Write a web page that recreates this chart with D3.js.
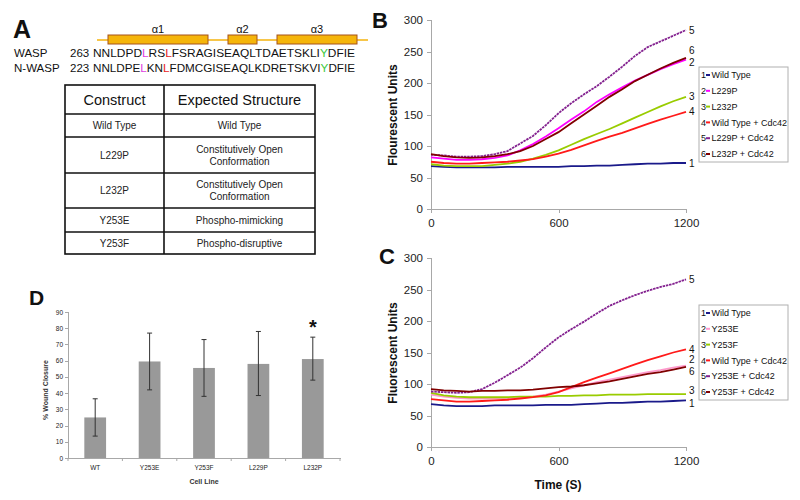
<!DOCTYPE html>
<meta charset="utf-8">
<style>
body { margin: 0; background: #fff; }
text { font-family: Arial, "Liberation Sans", sans-serif; fill: #111; }
.axis path, .axis line { stroke: #a8a8a8; shape-rendering: crispEdges; }
.axis text { font-family: Arial, "Liberation Sans", sans-serif; fill: #222; }
.panel-letter { font-weight: bold; }
</style>
<body>
<script src="https://d3js.org/d3.v7.min.js"></script>
<script>
// ---- data -------------------------------------------------------------
var times = [0, 60, 120, 180, 240, 300, 360, 420, 480, 540, 600,
             660, 720, 780, 840, 900, 960, 1020, 1080, 1140, 1200];

// panel B
var bWildType   = [68, 67, 66, 66, 66, 66, 67, 67, 67, 67, 67, 68, 68, 69, 69, 70, 71, 72, 72, 73, 73];
var bL229P      = [82, 80, 78, 78, 79, 81, 85, 93, 103, 115, 128, 142, 155, 170, 182, 193, 204, 213, 222, 230, 237];
var bL232P      = [71, 69, 68, 68, 68, 70, 72, 75, 80, 86, 93, 102, 111, 119, 127, 136, 145, 154, 163, 171, 178];
var bWTCdc42    = [75, 73, 72, 72, 73, 74, 75, 77, 79, 83, 88, 94, 101, 108, 115, 121, 128, 135, 142, 148, 154];
var bL229PCdc42 = [86, 85, 83, 83, 84, 87, 92, 104, 116, 133, 152, 168, 182, 195, 210, 226, 243, 257, 266, 275, 284];
var bL232PCdc42 = [87, 84, 82, 81, 82, 84, 87, 92, 100, 111, 122, 136, 150, 164, 178, 190, 203, 213, 223, 232, 240];
var bNames = ["Wild Type", "L229P", "L232P", "Wild Type + Cdc42", "L229P + Cdc42", "L232P + Cdc42"];

// panel C
var cWildType   = [68, 66, 65, 65, 65, 66, 66, 66, 66, 67, 67, 67, 68, 69, 70, 70, 71, 72, 72, 73, 74];
var cY253E      = [83, 80, 78, 77, 77, 77, 77, 78, 80, 83, 88, 93, 98, 103, 107, 111, 115, 119, 122, 126, 129];
var cY253F      = [86, 82, 80, 79, 79, 79, 79, 80, 80, 80, 81, 81, 82, 82, 83, 83, 83, 84, 84, 84, 84];
var cWTCdc42    = [76, 74, 72, 72, 73, 74, 75, 77, 79, 82, 87, 95, 103, 110, 117, 124, 131, 138, 144, 150, 155];
var cY253ECdc42 = [88, 87, 86, 87, 92, 102, 114, 126, 141, 158, 174, 187, 199, 212, 224, 233, 241, 248, 254, 259, 266];
var cY253FCdc42 = [92, 90, 89, 88, 89, 89, 90, 90, 91, 93, 95, 96, 98, 101, 104, 108, 112, 116, 119, 123, 127];
var cNames = ["Wild Type", "Y253E", "Y253F", "Wild Type + Cdc42", "Y253E + Cdc42", "Y253F + Cdc42"];

var fluorTicks = [0, 50, 100, 150, 200, 250, 300];
var timeTicks = [0, 600, 1200];

// panel D
var cellLines = ["WT", "Y253E", "Y253F", "L229P", "L232P"];
var closure   = [25, 59.5, 55.5, 58, 61];
var errLow    = [13.5, 42, 38, 38.5, 48];
var errHigh   = [36.5, 77, 73, 78, 74.5];
var closureTicks = [0, 10, 20, 30, 40, 50, 60, 70, 80, 90];

// panel A
var tableHead = ["Construct", "Expected Structure"];
var tableRows = [
  ["Wild Type", ["Wild Type"]],
  ["L229P", ["Constitutively Open", "Conformation"]],
  ["L232P", ["Constitutively Open", "Conformation"]],
  ["Y253E", ["Phospho-mimicking"]],
  ["Y253F", ["Phospho-disruptive"]]
];
var waspSeq  = [["NNLDPD", "k"], ["L", "m"], ["RS", "k"], ["L", "r"], ["FSRAGISEAQLTDAETSKLI", "k"], ["Y", "g"], ["DFIE", "k"]];
var nwaspSeq = [["NNLDPE", "k"], ["L", "m"], ["KN", "k"], ["L", "r"], ["FDMCGISEAQLKDRETSKVI", "k"], ["Y", "g"], ["DFIE", "k"]];
var helices = [["\u03b11", 108, 208], ["\u03b12", 228, 257], ["\u03b13", 277, 357]];

// ---- drawing ----------------------------------------------------------
var svg = d3.select("body").append("svg")
    .attr("width", 800)
    .attr("height", 500);

var letterColor = { k: "#111", m: "#e040e0", r: "#e8231e", g: "#3cc83c" };

// ===== Panel A =====
svg.append("text").attr("class", "panel-letter")
    .attr("x", 13).attr("y", 38).style("font-size", "25px").text("A");

// helix bar
svg.append("line")
    .attr("x1", 97).attr("x2", 368).attr("y1", 40).attr("y2", 40)
    .style("stroke", "#f7c64a").style("stroke-width", 2);
helices.forEach(function (h) {
  svg.append("rect")
      .attr("x", h[1]).attr("y", 35)
      .attr("width", h[2] - h[1]).attr("height", 9)
      .style("fill", "#f5b50a").style("stroke", "#a5521a").style("stroke-width", 1);
  svg.append("text")
      .attr("x", (h[1] + h[2]) / 2).attr("y", 33)
      .style("text-anchor", "middle").style("font-size", "11px")
      .text(h[0]);
});

function seqLine(name, start, segs, y) {
  svg.append("text").attr("x", 14).attr("y", y).style("font-size", "11.5px").text(name);
  svg.append("text").attr("x", 70).attr("y", y).style("font-size", "11.5px").text(start);
  var t = svg.append("text").attr("x", 93).attr("y", y)
      .style("font-size", "11.5px")
      .attr("textLength", 262).attr("lengthAdjust", "spacingAndGlyphs");
  segs.forEach(function (s) {
    t.append("tspan").style("fill", letterColor[s[1]]).text(s[0]);
  });
}
seqLine("WASP", "263", waspSeq, 57);
seqLine("N-WASP", "223", nwaspSeq, 72);

// table
var tbl = svg.append("g");
var tblX = [65, 164, 315];
var rowY = [85, 114, 137, 173, 208, 232, 254];
tbl.append("rect")
    .attr("x", tblX[0]).attr("y", rowY[0])
    .attr("width", tblX[2] - tblX[0]).attr("height", rowY[6] - rowY[0])
    .style("fill", "none").style("stroke", "#111").style("stroke-width", 1.6);
tbl.append("line")
    .attr("x1", tblX[1]).attr("x2", tblX[1]).attr("y1", rowY[0]).attr("y2", rowY[6])
    .style("stroke", "#111").style("stroke-width", 1.6);
rowY.slice(1, 6).forEach(function (y) {
  tbl.append("line")
      .attr("x1", tblX[0]).attr("x2", tblX[2]).attr("y1", y).attr("y2", y)
      .style("stroke", "#111").style("stroke-width", 1.6);
});
tableHead.forEach(function (h, i) {
  tbl.append("text")
      .attr("x", (tblX[i] + tblX[i + 1]) / 2).attr("y", (rowY[0] + rowY[1]) / 2)
      .attr("dy", "0.36em")
      .style("text-anchor", "middle").style("font-size", "14.5px")
      .text(h);
});
tableRows.forEach(function (r, i) {
  var cy = (rowY[i + 1] + rowY[i + 2]) / 2;
  tbl.append("text")
      .attr("x", (tblX[0] + tblX[1]) / 2).attr("y", cy).attr("dy", "0.36em")
      .style("text-anchor", "middle").style("font-size", "10px").style("fill", "#222")
      .text(r[0]);
  r[1].forEach(function (line, j) {
    tbl.append("text")
        .attr("x", (tblX[1] + tblX[2]) / 2)
        .attr("y", cy + (j - (r[1].length - 1) / 2) * 12).attr("dy", "0.36em")
        .style("text-anchor", "middle").style("font-size", "10px").style("fill", "#222")
        .text(line);
  });
});

// ===== Panels B and C =====
var lineColors = ["#1a1a8a", "#ff00ff", "#99cc00", "#ff1a1a", "#83218f", "#800000"];

function kinetics(opt) {
  var x = d3.scaleLinear().domain([0, 1200]).range([431, 686]);
  var y = d3.scaleLinear().domain([0, 300]).range([opt.bottom, opt.bottom - 189]);
  var g = svg.append("g");

  g.append("g").attr("class", "axis")
      .attr("transform", "translate(0," + opt.bottom + ")")
      .call(d3.axisBottom(x).tickValues(timeTicks).tickFormat(d3.format("d"))
        .tickSize(4).tickPadding(6))
      .selectAll("text").style("font-size", "11.5px");
  g.append("g").attr("class", "axis")
      .attr("transform", "translate(431,0)")
      .call(d3.axisLeft(y).tickValues(fluorTicks).tickSize(4).tickPadding(4))
      .selectAll("text").style("font-size", "11.5px");

  g.append("text")
      .attr("transform", "translate(397," + (opt.bottom - 94) + ") rotate(-90)")
      .style("text-anchor", "middle").style("font-size", "12px").style("font-weight", "bold")
      .text(opt.ylabel);

  var line = d3.line()
      .x(function (d, i) { return x(times[i]); })
      .y(function (d) { return y(d); });

  opt.series.forEach(function (s, i) {
    g.append("path")
        .attr("d", line(s))
        .style("fill", "none")
        .style("stroke", opt.colors[i])
        .style("stroke-width", 1.8)
        .style("stroke-dasharray", opt.dashed[i] ? "2.5,0.8" : null);
    g.append("text")
        .attr("x", 689).attr("y", y(s[s.length - 1]) + opt.nudge[i])
        .attr("dy", "0.35em").style("font-size", "10px")
        .text(i + 1);
  });

  // legend
  var lg = g.append("g").attr("transform", "translate(699," + opt.legendTop + ")");
  lg.append("rect")
      .attr("width", 89).attr("height", 95)
      .style("fill", "#fff").style("stroke", "#b0b0b0");
  opt.names.forEach(function (n, i) {
    var ly = 8 + i * 15.8;
    lg.append("text").attr("x", 2).attr("y", ly).attr("dy", "0.35em")
        .style("font-size", "9px").text(i + 1);
    lg.append("line").attr("x1", 7).attr("x2", 11).attr("y1", ly).attr("y2", ly)
        .style("stroke", opt.colors[i]).style("stroke-width", 2);
    lg.append("text").attr("x", 12.5).attr("y", ly).attr("dy", "0.35em")
        .style("font-size", "9px").text(n);
  });
}

svg.append("text").attr("class", "panel-letter")
    .attr("x", 372).attr("y", 28).style("font-size", "22px").text("B");
kinetics({
  bottom: 209,
  ylabel: "Flourescent Units",
  series: [bWildType, bL229P, bL232P, bWTCdc42, bL229PCdc42, bL232PCdc42],
  names: bNames,
  colors: lineColors,
  dashed: [false, false, false, false, true, false],
  nudge: [0, 3, 0, 0, 0, -7],
  legendTop: 67
});

svg.append("text").attr("class", "panel-letter")
    .attr("x", 379).attr("y", 264).style("font-size", "22px").text("C");
kinetics({
  bottom: 447,
  ylabel: "Fluorescent Units",
  series: [cWildType, cY253E, cY253F, cWTCdc42, cY253ECdc42, cY253FCdc42],
  names: cNames,
  colors: ["#1a1a8a", "#ff99cc", "#99cc00", "#ff1a1a", "#83218f", "#800000"],
  dashed: [false, false, false, false, true, false],
  nudge: [3, -6, -4, 0, 0, 5],
  legendTop: 305
});

svg.append("text")
    .attr("x", 558).attr("y", 489)
    .style("text-anchor", "middle").style("font-size", "12px").style("font-weight", "bold")
    .text("Time (S)");

// ===== Panel D =====
svg.append("text").attr("class", "panel-letter")
    .attr("x", 29).attr("y", 305).style("font-size", "21px").text("D");

var dx = d3.scaleBand().domain(cellLines).range([68, 340]).paddingInner(0.6).paddingOuter(0.3);
var dy = d3.scaleLinear().domain([0, 90]).range([458, 312]);
var dg = svg.append("g");

dg.append("g").attr("class", "axis")
    .attr("transform", "translate(68,0)")
    .call(d3.axisLeft(dy).tickValues(closureTicks).tickSize(3).tickPadding(2))
    .selectAll("text").style("font-size", "6.5px");

dg.append("g").attr("class", "axis")
    .attr("transform", "translate(0,458)")
    .call(d3.axisBottom(dx).tickSize(0).tickPadding(7))
    .selectAll("text").style("font-size", "6.5px");

// category boundary ticks
var step = (340 - 68) / cellLines.length;
dg.selectAll(".bound")
    .data(d3.range(cellLines.length + 1))
    .enter().append("line")
    .attr("x1", function (i) { return 68 + i * step; })
    .attr("x2", function (i) { return 68 + i * step; })
    .attr("y1", 458).attr("y2", 461)
    .style("stroke", "#a8a8a8");

dg.selectAll(".bar")
    .data(closure)
    .enter().append("rect")
    .attr("x", function (d, i) { return dx(cellLines[i]); })
    .attr("width", dx.bandwidth())
    .attr("y", function (d) { return dy(d); })
    .attr("height", function (d) { return 458 - dy(d); })
    .style("fill", "#999999");

closure.forEach(function (d, i) {
  var cx = dx(cellLines[i]) + dx.bandwidth() / 2;
  dg.append("line")
      .attr("x1", cx).attr("x2", cx).attr("y1", dy(errLow[i])).attr("y2", dy(errHigh[i]))
      .style("stroke", "#333").style("stroke-width", 1);
  [errLow[i], errHigh[i]].forEach(function (v) {
    dg.append("line")
        .attr("x1", cx - 2.5).attr("x2", cx + 2.5).attr("y1", dy(v)).attr("y2", dy(v))
        .style("stroke", "#333").style("stroke-width", 1);
  });
});

dg.append("text")
    .attr("x", dx("L232P") + dx.bandwidth() / 2).attr("y", dy(errHigh[4]) - 3)
    .style("text-anchor", "middle").style("font-size", "20px").style("font-weight", "bold")
    .text("*");

dg.append("text")
    .attr("transform", "translate(48,390) rotate(-90)")
    .style("text-anchor", "middle").style("font-size", "7px").style("font-weight", "bold")
    .style("fill", "#333")
    .text("% Wound Closure");

dg.append("text")
    .attr("x", 204).attr("y", 484)
    .style("text-anchor", "middle").style("font-size", "7px").style("font-weight", "bold")
    .style("fill", "#333")
    .text("Cell Line");
</script>
</body>
